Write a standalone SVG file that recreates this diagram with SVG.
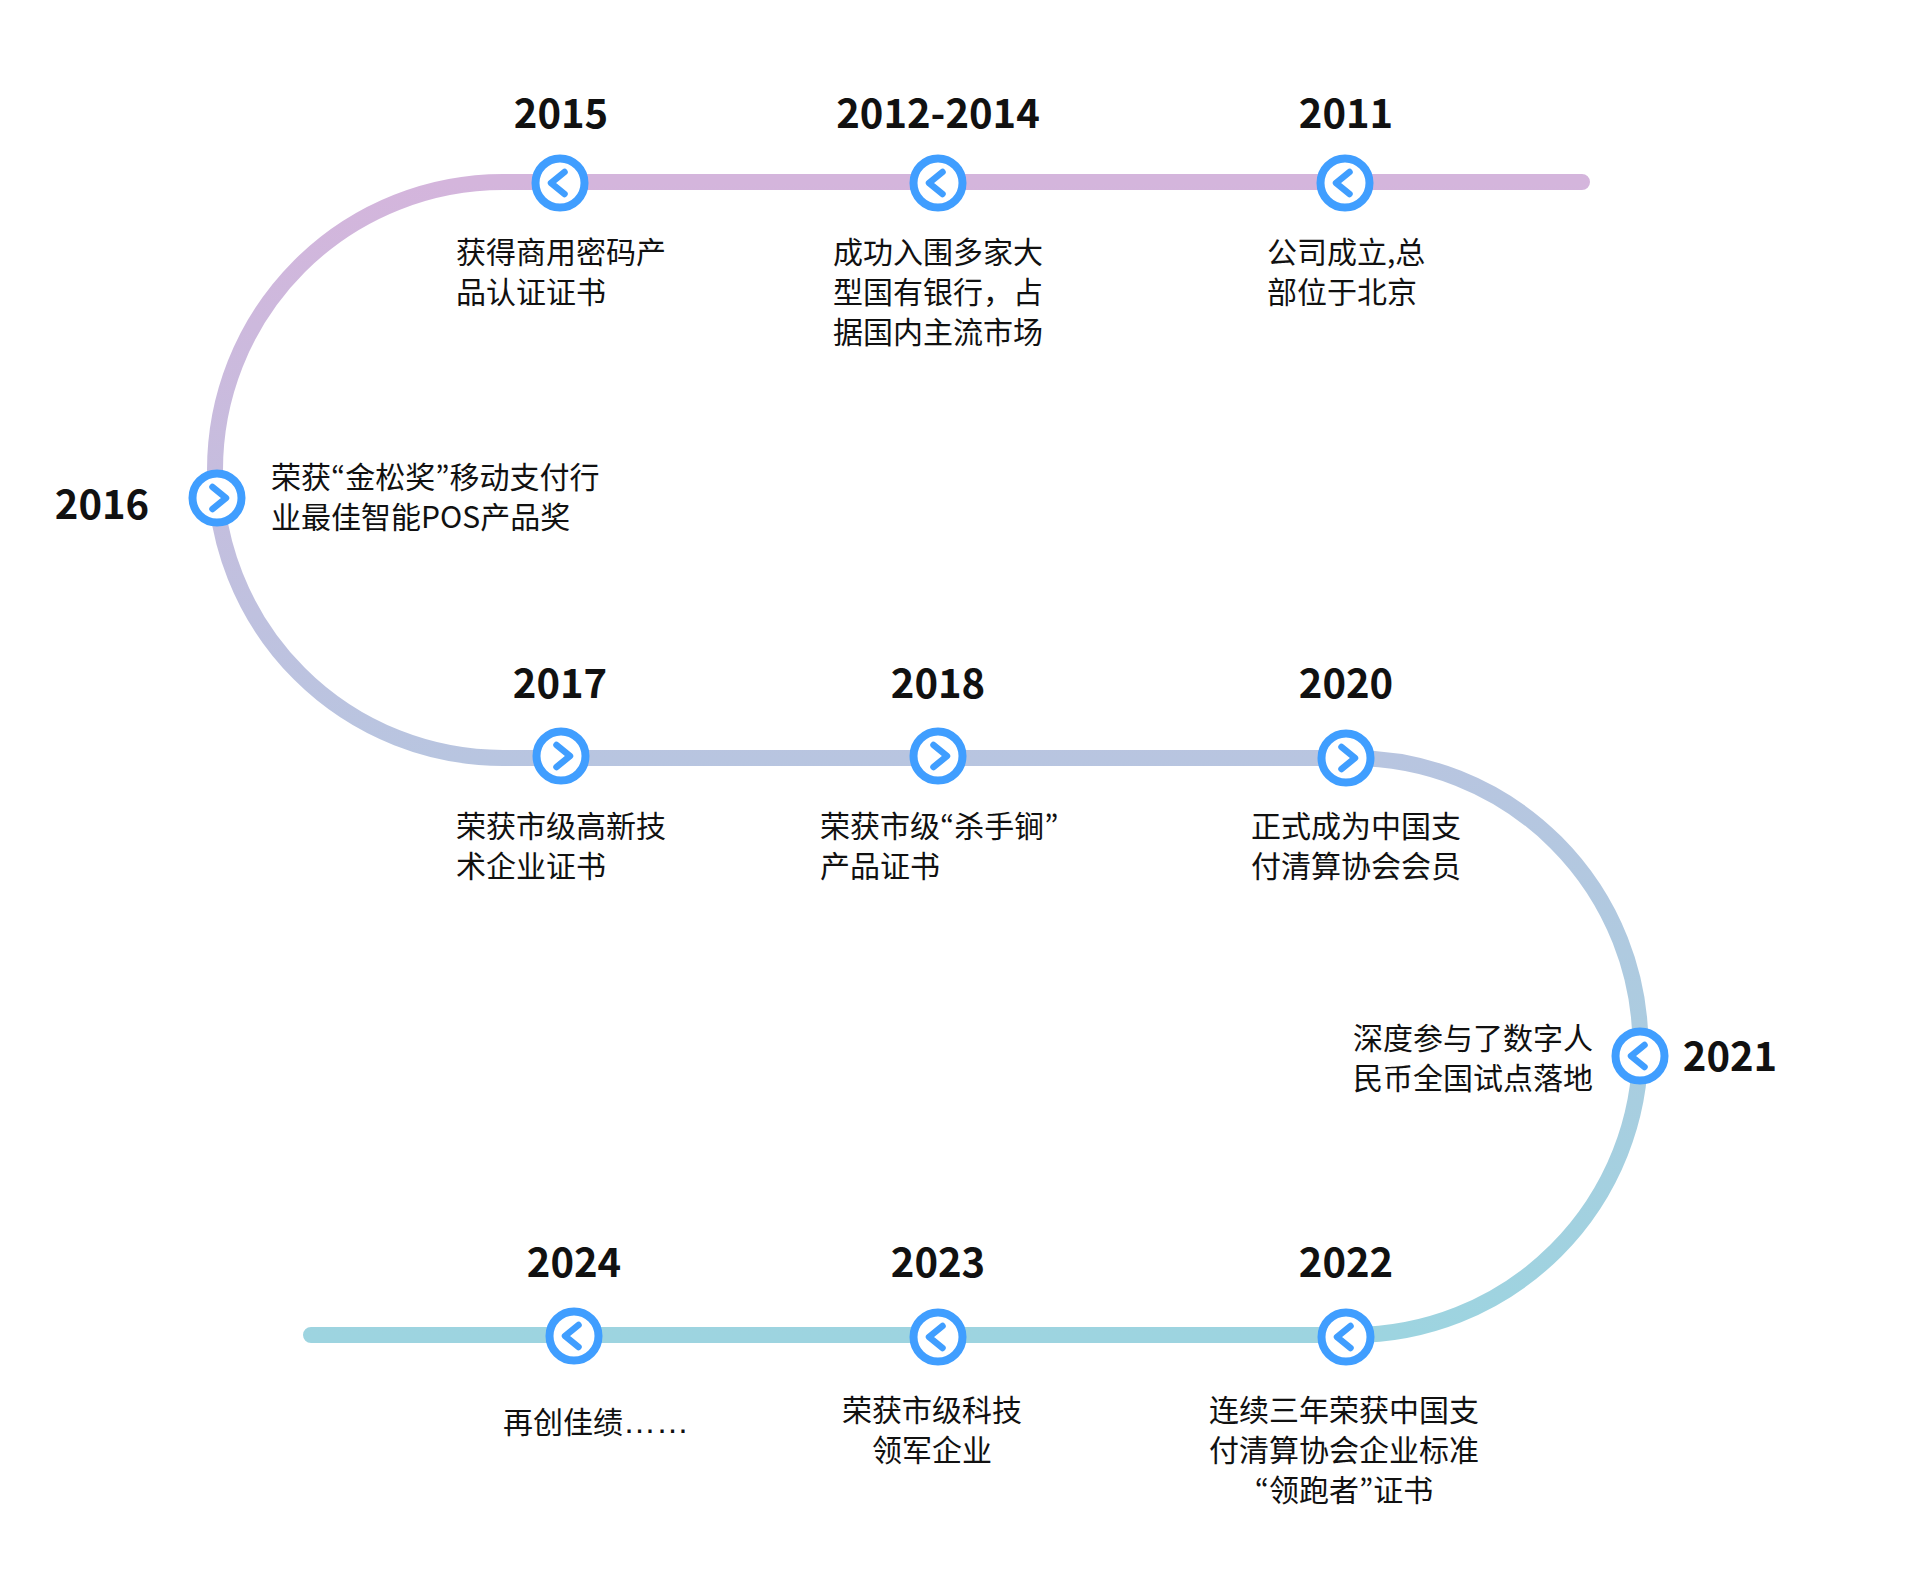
<svg xmlns="http://www.w3.org/2000/svg" width="1920" height="1582" viewBox="0 0 1920 1582">
<style>
text{font-family:"Noto Sans CJK SC","Noto Sans",sans-serif;fill:#111}
.y{font-size:40px;font-weight:700;text-anchor:middle}
.d{font-size:30px;font-weight:400}
.m{text-anchor:middle}
.p{font-family:"Noto Sans CJK JP",sans-serif}
.e{font-family:"Liberation Sans",sans-serif;font-size:33px}
.ring{fill:#fff;stroke:#409eff;stroke-width:8}
.chev{fill:none;stroke:#409eff;stroke-width:6.5;stroke-linecap:round;stroke-linejoin:round}
</style>
<defs>
<linearGradient id="track" gradientUnits="userSpaceOnUse" x1="0" y1="182" x2="0" y2="1335">
<stop offset="0" stop-color="#d4b5dc"/>
<stop offset="0.5" stop-color="#b8c5e0"/>
<stop offset="1" stop-color="#9dd4e0"/>
</linearGradient>
<g id="left"><circle class="ring" r="24.5"/><path class="chev" d="M4.5-11L-9 0L4.5 11"/></g>
<g id="right"><circle class="ring" r="24.5"/><path class="chev" d="M-4.5-11L9 0L-4.5 11"/></g>
</defs>
<rect width="1920" height="1582" fill="#fff"/>
<g id="connectors">
<path d="M1582 182H503A288 288 0 0 0 503 758H1352A288.5 288.5 0 0 1 1352 1335H311" fill="none" stroke="url(#track)" stroke-width="16" stroke-linecap="round"/>
</g>
<g id="n2015"><use href="#left" x="560" y="183"/><text class="y" x="561" y="128">2015</text><text class="d" x="456" y="263">获得商用密码产</text><text class="d" x="456" y="303">品认证证书</text></g>
<g id="n2012"><use href="#left" x="938" y="183"/><text class="y" x="938" y="128">2012-2014</text><text class="d" x="833" y="263">成功入围多家大</text><text class="d" x="833" y="303">型国有银行，占</text><text class="d" x="833" y="343">据国内主流市场</text></g>
<g id="n2011"><use href="#left" x="1345" y="183"/><text class="y" x="1346" y="128">2011</text><text class="d" x="1267" y="263">公司成立,总</text><text class="d" x="1267" y="303">部位于北京</text></g>
<g id="n2016"><use href="#right" x="217" y="498"/><text class="y" x="102" y="519">2016</text><text class="d" x="271" y="488">荣获<tspan class="p">“</tspan>金松奖<tspan class="p">”</tspan>移动支付行</text><text class="d" x="271" y="528">业最佳智能POS产品奖</text></g>
<g id="n2017"><use href="#right" x="561" y="756"/><text class="y" x="560" y="698">2017</text><text class="d" x="456" y="837">荣获市级高新技</text><text class="d" x="456" y="877">术企业证书</text></g>
<g id="n2018"><use href="#right" x="938" y="756"/><text class="y" x="938" y="698">2018</text><text class="d" x="820" y="837">荣获市级<tspan class="p">“</tspan>杀手锏<tspan class="p">”</tspan></text><text class="d" x="820" y="877">产品证书</text></g>
<g id="n2020"><use href="#right" x="1346" y="758"/><text class="y" x="1346" y="698">2020</text><text class="d" x="1251" y="837">正式成为中国支</text><text class="d" x="1251" y="877">付清算协会会员</text></g>
<g id="n2021"><use href="#left" x="1640" y="1056"/><text class="y" x="1730" y="1071">2021</text><text class="d" x="1353" y="1049">深度参与了数字人</text><text class="d" x="1353" y="1089">民币全国试点落地</text></g>
<g id="n2022"><use href="#left" x="1346" y="1337"/><text class="y" x="1346" y="1277">2022</text><text class="d m" x="1344" y="1421">连续三年荣获中国支</text><text class="d m" x="1344" y="1461">付清算协会企业标准</text><text class="d m" x="1344" y="1501"><tspan class="p">“</tspan>领跑者<tspan class="p">”</tspan>证书</text></g>
<g id="n2023"><use href="#left" x="938" y="1337"/><text class="y" x="938" y="1277">2023</text><text class="d m" x="932" y="1421">荣获市级科技</text><text class="d m" x="932" y="1461">领军企业</text></g>
<g id="n2024"><use href="#left" x="574" y="1336"/><text class="y" x="574" y="1277">2024</text><text class="d" x="503" y="1433">再创佳绩<tspan class="e">……</tspan></text></g>
</svg>
